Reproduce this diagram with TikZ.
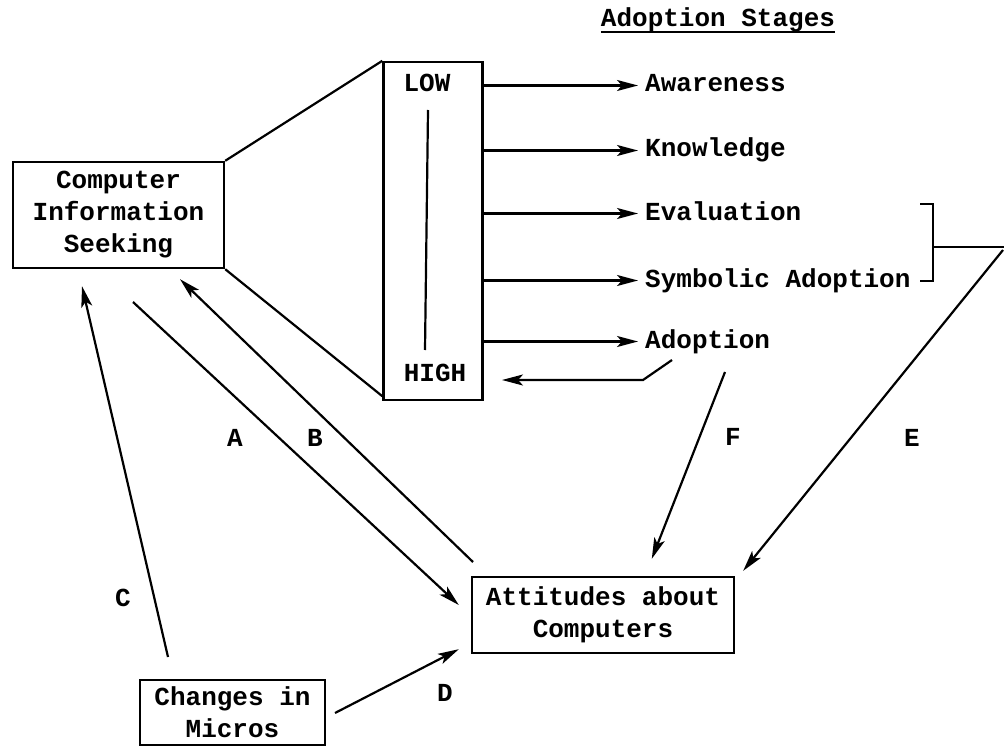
\documentclass[tikz,border=0pt]{standalone}
\usepackage{fontspec}
\setmainfont{Liberation Mono}
\usetikzlibrary{arrows.meta}
\begin{document}
\begin{tikzpicture}[x=1pt,y=-1pt,
  txt/.style={font=\fontsize{26}{32}\selectfont\bfseries, inner sep=0pt},
  box/.style={draw, line width=2.4pt, align=center, txt},
  con/.style={line width=2.2pt},
  arr/.style={con, -{Stealth[length=21pt,width=11pt,inset=5pt]}}]
\useasboundingbox (0,0) rectangle (1006,746);
% boxes
\node[box, minimum width=211pt, minimum height=106pt] (cis) at (118.5,215) {Computer\\Information\\Seeking};
\node[box, minimum width=99pt, minimum height=338pt] (tall) at (433,231) {};
\node[box, minimum width=262pt, minimum height=76pt] (att) at (603,615) {Attitudes about\\Computers};
\node[box, minimum width=185pt, minimum height=65pt] (ch) at (232.5,712.5) {Changes in\\Micros};
% scale inside tall box
\node[txt] (low) at (427,83) {LOW};
\node[txt] (high) at (435,373) {HIGH};
\coordinate (sc1) at (428,110);
\coordinate (sc2) at (425,350);
\draw[con] (sc1) -- (sc2);
% funnel
\draw[con] (cis.north east) -- (tall.north west);
\draw[con] (cis.south east) -- ([yshift=5pt]tall.south west);
% title
\node[txt, anchor=base] (title) at (718,27) {Adoption Stages};
\draw[line width=2pt] ([yshift=-5pt]title.base west) -- ([yshift=-5pt]title.base east);
% stages
\node[txt, anchor=base west] (aw) at (645,92) {Awareness};
\node[txt, anchor=base west] (kn) at (645,157) {Knowledge};
\node[txt, anchor=base west] (ev) at (645,220) {Evaluation};
\node[txt, anchor=base west] (sy) at (645,287) {Symbolic Adoption};
\node[txt, anchor=base west] (ad) at (645,348) {Adoption};
\foreach \s in {aw,kn,ev,sy,ad}
  \draw[arr] ([yshift=6.5pt]\s.base west -| tall.east) -- ([xshift=-7pt,yshift=6.5pt]\s.base west);
% back arrow from Adoption to HIGH
\coordinate (bk1) at (672,360);
\coordinate (bk2) at (643,380);
\coordinate (bk3) at (502,380);
\draw[arr] (bk1) -- (bk2) -- (bk3);
% bracket
\coordinate (b1) at (920,204);
\coordinate (b2) at (933,204);
\coordinate (b3) at (933,281);
\coordinate (b4) at (920,281);
\coordinate (bm) at (933,247);
\coordinate (br) at (1004,247);
\draw[con] (b1) -- (b2) -- (b3) -- (b4);
\draw[con] (bm) -- (br);
% E and F
\coordinate (es) at (1003,250);
\draw[arr] (es) -- ([xshift=8pt,yshift=5pt]att.north east);
\coordinate (fs) at (725,372);
\draw[arr] (fs) -- ([xshift=181pt,yshift=17pt]att.north west);
% A, B, C, D
\coordinate (as) at (133,302);
\draw[arr] (as) -- ([xshift=-12pt,yshift=10pt]att.west);
\coordinate (bs) at (473,562);
\draw[arr] (bs) -- ([xshift=61.5pt,yshift=-10pt]cis.south);
\coordinate (cs) at (168,657);
\draw[arr] (cs) -- ([xshift=-36.5pt,yshift=-17pt]cis.south);
\coordinate (ds) at (335,713);
\draw[arr] (ds) -- ([xshift=-12pt,yshift=5pt]att.south west);
% labels
\node[txt] (la) at (235,438) {A};
\node[txt] (lb) at (315,438) {B};
\node[txt] (lc) at (123,598) {C};
\node[txt] (ld) at (445,693) {D};
\node[txt] (lf) at (733,437) {F};
\node[txt] (le) at (912,438) {E};
\end{tikzpicture}
\end{document}
